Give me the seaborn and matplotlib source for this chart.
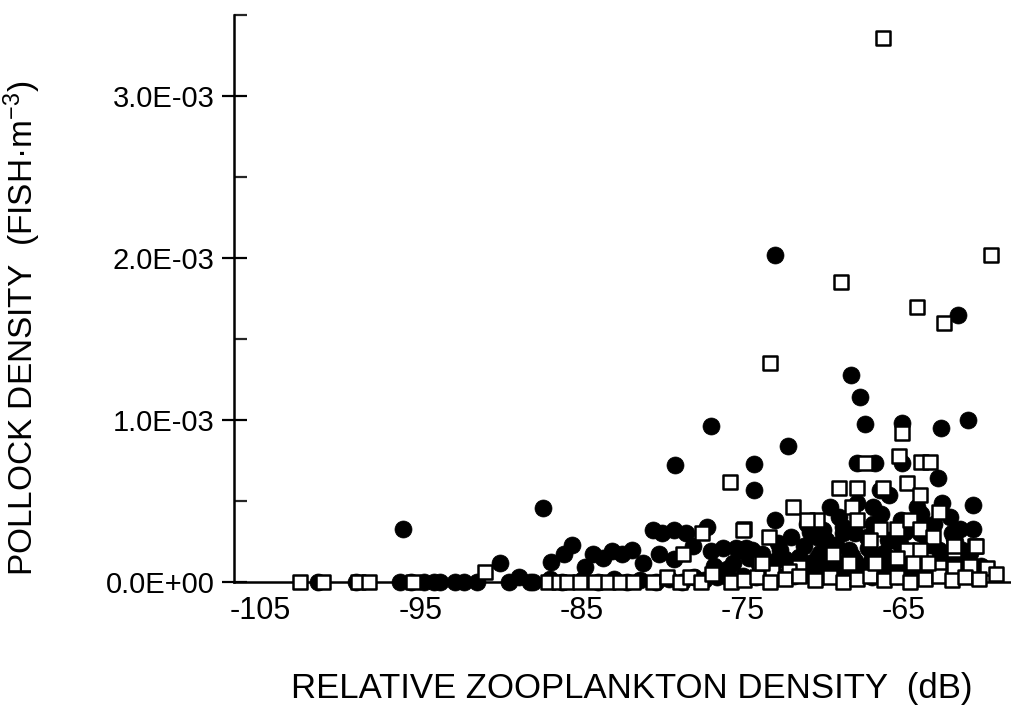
import matplotlib
matplotlib.use("Agg")
import matplotlib.pyplot as plt
import seaborn as sns
import pandas as pd
from matplotlib.ticker import FixedLocator, FuncFormatter

# ---------------- data ----------------
# filled circles: x = relative zooplankton density (dB), y = pollock density (in 1E-03 fish/m^3)
circ_x = [
    -73.0, -61.6, -68.3, -67.7, -67.4, -65.1, -62.7, -61.0, -72.2, -74.3, -74.3, -62.9, -60.7,
    -77.0, -79.2, -87.4, -96.1,
    -90.1, -86.9, -86.1, -85.6, -84.8, -84.3, -83.7, -83.1, -82.5, -81.9, -81.2, -80.6, -80.0,
    -79.3, -78.5, -77.2, -80.2, -79.3, -78.1, -77.0, -76.2, -75.4, -74.8,
    -73.0, -69.6, -62.6, -70.4, -65.9, -66.9, -60.7, -61.5, -74.4, -72.7, -71.5, -75.2, -69.8,
    -68.4, -67.3, -65.7, -62.8, -63.6, -65.2, -66.5, -67.9, -62.1, -67.9, -66.8, -65.1,
    -101.4, -99.0, -96.3, -95.6, -94.8, -94.2, -93.8, -92.9, -92.3, -91.5, -89.5, -88.9, -88.2,
    -88.0, -87.0, -86.2, -85.0, -84.0, -83.0, -82.2, -81.4, -80.4, -79.6, -78.8, -78.0, -77.4,
    -76.6, -75.8, -75.0, -74.2, -73.4, -72.6, -71.8, -71.0, -70.2, -69.4, -68.6, -67.8, -67.0,
    -66.2, -65.4, -64.6, -63.8, -63.0, -62.2, -61.4, -60.6,
    -76.8, -75.6, -74.0, -73.0, -71.9, -70.8, -69.9, -69.0, -68.0, -67.0, -66.0, -65.0, -64.0,
    -63.0, -62.0, -61.0, -60.2,
    -71.0, -69.0, -68.8, -66.4, -64.2, -63.1, -61.9,
    -73.8, -72.8, -71.2, -70.2, -69.2, -68.2, -67.2, -66.2, -65.2, -64.4, -63.4, -62.4, -61.4,
    -70.8, -68.8, -66.9, -64.9, -63.9, -61.8, -72.0, -70.0, -67.6, -65.6, -63.2, -60.9,
    -76.0, -74.6, -73.6, -72.4, -71.4, -70.4, -69.4, -68.4, -67.4, -66.4, -65.4, -64.4, -63.4,
    -62.4, -61.4, -60.4, -72.0, -70.0, -68.0, -66.0, -64.0, -62.0,
]
circ_y = [
    2.02, 1.65, 1.28, 1.14, 0.975, 0.98, 0.95, 1.00, 0.84, 0.73, 0.57, 0.64, 0.475,
    0.96, 0.72, 0.455, 0.33,
    0.12, 0.125, 0.17, 0.23, 0.09, 0.17, 0.15, 0.19, 0.17, 0.20, 0.12, 0.32, 0.30,
    0.32, 0.30, 0.34, 0.17, 0.14, 0.22, 0.19, 0.21, 0.21, 0.21,
    0.38, 0.46, 0.49, 0.28, 0.54, 0.46, 0.33, 0.33, 0.20, 0.20, 0.155, 0.20, 0.26,
    0.20, 0.28, 0.26, 0.20, 0.28, 0.38, 0.57, 0.49, 0.40, 0.735, 0.735, 0.735,
    0.0, 0.0, 0.0, 0.0, 0.0, 0.0, 0.0, 0.0, 0.0, 0.0, 0.0, 0.03, 0.0,
    0.0, 0.02, 0.0, 0.01, 0.0, 0.02, 0.0, 0.01, 0.0, 0.02, 0.0, 0.03, 0.01,
    0.03, 0.02, 0.04, 0.03, 0.05, 0.03, 0.04, 0.05, 0.03, 0.06, 0.04, 0.05, 0.03,
    0.06, 0.04, 0.05, 0.03, 0.05, 0.04, 0.06, 0.03,
    0.10, 0.12, 0.11, 0.13, 0.10, 0.12, 0.14, 0.11, 0.13, 0.15, 0.10, 0.12, 0.14,
    0.11, 0.13, 0.12, 0.10,
    0.36, 0.40, 0.30, 0.42, 0.46, 0.36, 0.27,
    0.17, 0.24, 0.22, 0.18, 0.23, 0.16, 0.21, 0.18, 0.22, 0.16, 0.23, 0.17, 0.20,
    0.31, 0.34, 0.36, 0.31, 0.42, 0.25, 0.08, 0.08, 0.09, 0.08, 0.07, 0.18,
    0.08, 0.15, 0.07, 0.14, 0.08, 0.15, 0.07, 0.14, 0.08, 0.16, 0.07, 0.15, 0.08,
    0.07, 0.16, 0.06, 0.28, 0.32, 0.30, 0.26, 0.30, 0.30,
]

# open squares
sq_x = [
    -66.3, -68.9, -59.6, -64.2, -62.5, -73.3, -75.8, -65.1, -65.3, -63.9, -63.4, -67.4,
    -71.9, -70.4, -71.0, -69.0, -67.9, -66.3, -64.8, -64.0, -68.2, -67.9, -66.5, -65.4,
    -64.6, -64.0, -62.8, -63.2, -61.9, -60.6, -73.4, -74.9, -69.4, -67.1, -64.8, -64.0,
    -73.9, -71.5, -72.1, -73.2, -68.4, -66.7, -65.4, -64.4, -62.8, -61.9, -60.9, -59.8,
    -77.5, -78.7, -75.0, -91.0,
    -102.5, -101.1, -98.9, -98.2, -95.5,
    -87.1, -86.4, -85.9, -85.1, -84.2, -83.4, -82.6, -81.8, -80.6, -79.7, -78.9, -78.3,
    -77.6, -76.9, -75.7,
    -74.9, -74.1, -73.3, -72.4, -71.5, -70.5, -69.6, -68.8, -67.9, -67.1, -66.2, -65.4,
    -64.6, -63.7, -62.8, -62.0, -61.2, -60.3, -59.3,
    -73.8, -69.4, -66.8, -60.5, -61.9, -63.5,
]
sq_y = [
    3.36, 1.85, 2.02, 1.70, 1.60, 1.35, 0.62, 0.92, 0.78, 0.74, 0.74, 0.735,
    0.46, 0.38, 0.38, 0.58, 0.58, 0.58, 0.61, 0.54, 0.46, 0.38, 0.33, 0.33,
    0.38, 0.33, 0.43, 0.28, 0.20, 0.22, 0.28, 0.33, 0.17, 0.26, 0.20, 0.20,
    0.12, 0.09, 0.07, 0.06, 0.12, 0.12, 0.15, 0.12, 0.09, 0.085, 0.10, 0.085,
    0.30, 0.17, 0.32, 0.06,
    0.0, 0.0, 0.0, 0.0, 0.0,
    0.0, 0.0, 0.0, 0.0, 0.0, 0.0, 0.0, 0.0, 0.0, 0.03, 0.0, 0.03,
    0.0, 0.05, 0.0,
    0.01, 0.03, 0.0, 0.02, 0.04, 0.01, 0.03, 0.0, 0.02, 0.04, 0.01, 0.03,
    0.0, 0.02, 0.04, 0.01, 0.03, 0.02, 0.05,
    0.12, 0.17, 0.12, 0.22, 0.22, 0.12,
]

y_ticks = [0.0, 1.0e-3, 2.0e-3, 3.0e-3]
y_minor = [0.5e-3, 1.5e-3, 2.5e-3, 3.5e-3]
x_ticks = [-105, -95, -85, -75, -65]

# ---------------- figure ----------------
sns.set_theme(style="white")
plt.rcParams["font.family"] = ["Liberation Sans", "DejaVu Sans"]
plt.rcParams["mathtext.default"] = "regular"
plt.rcParams["axes.unicode_minus"] = False

fig = plt.figure(figsize=(10.11, 7.05), dpi=100)
ax = fig.add_axes([234 / 1011, 1 - 582 / 705, 776 / 1011, 567 / 705])

circ = pd.DataFrame({"x": circ_x, "y": [v * 1e-3 for v in circ_y]})
sq = pd.DataFrame({"x": sq_x, "y": [v * 1e-3 for v in sq_y]})

sns.scatterplot(data=circ, x="x", y="y", ax=ax, marker="o", s=150,
                color="black", edgecolor="black", linewidth=0.5, zorder=3, clip_on=False)
sns.scatterplot(data=sq, x="x", y="y", ax=ax, marker="s", s=115,
                facecolor="white", edgecolor="black", linewidth=1.8, zorder=4, clip_on=False)

ax.set_xlim(-106.6, -58.4)
ax.set_ylim(0, 3.5e-3)

for side in ["top", "right"]:
    ax.spines[side].set_visible(False)
for side in ["left", "bottom"]:
    ax.spines[side].set_color("black")
    ax.spines[side].set_linewidth(1.8)
    ax.spines[side].set_zorder(1)

ax.xaxis.set_major_locator(FixedLocator(x_ticks))
ax.yaxis.set_major_locator(FixedLocator(y_ticks))
ax.yaxis.set_minor_locator(FixedLocator(y_minor))
ax.yaxis.set_major_formatter(FuncFormatter(lambda v, p: f"{v:.1E}"))

ax.tick_params(axis="x", which="both", length=0, pad=10, labelsize=22, colors="black")
ax.tick_params(axis="y", which="major", direction="inout", length=18, width=1.6,
               pad=5, labelsize=21, colors="black", left=True)
ax.tick_params(axis="y", which="minor", direction="in", length=9, width=1.6, left=True)

ax.set_xlabel("RELATIVE ZOOPLANKTON DENSITY  (dB)", fontsize=25, color="black")
ax.set_ylabel("POLLOCK DENSITY  (FISH·m$^{-3}$)", fontsize=24, color="black")
ax.xaxis.label.set_va("center")
ax.yaxis.label.set_va("center")
ax.xaxis.set_label_coords(0.513, -0.187)
ax.yaxis.set_label_coords(-0.273, 0.448)

fig.savefig("out.png", dpi=100)
